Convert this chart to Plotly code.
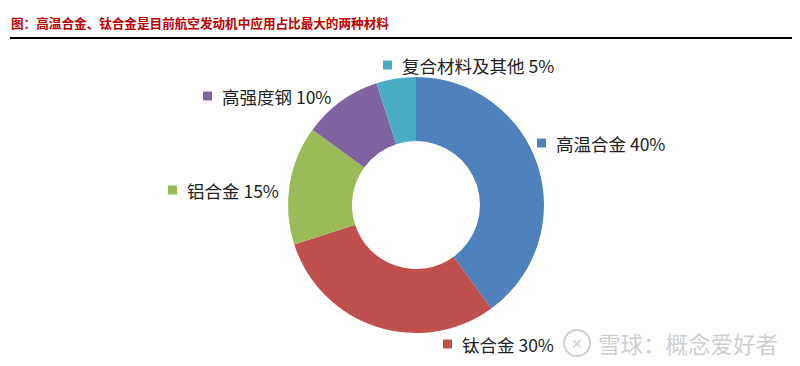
import plotly.graph_objects as go

W, H = 800, 366
OFF = 8  # page body margin offset

categories = ["高温合金", "钛合金", "铝合金", "高强度钢", "复合材料及其他"]
values = [40, 30, 15, 10, 5]
colors = ["#4F81BD", "#C0504D", "#9BBB59", "#8064A2", "#4BACC6"]
title_text = "图：高温合金、钛合金是目前航空发动机中应用占比最大的两种材料"
watermark_text = "雪球：概念爱好者"

# label anchor positions in screenshot pixels (square left x, center y)
label_pos = [(537, 143), (443, 344), (168, 190), (203, 96), (383, 65)]

def px(x):
    return (x - OFF) / W

def py(y):
    return 1 - (y - OFF) / H

cx, cy, r = 416, 205, 128

fig = go.Figure()
fig.add_trace(go.Pie(
    labels=categories,
    values=values,
    marker=dict(colors=colors, line=dict(width=0)),
    hole=0.5,
    sort=False,
    direction="clockwise",
    rotation=0,
    textinfo="none",
    hoverinfo="label+percent",
    showlegend=False,
    domain=dict(x=[px(cx - r), px(cx + r)], y=[py(cy + r), py(cy - r)]),
))

font_cjk = "Noto Sans CJK SC, Noto Sans, sans-serif"
shapes = []
annotations = []
sq = 9
for cat, val, col, (lx, ly) in zip(categories, values, colors, label_pos):
    shapes.append(dict(type="rect", xref="paper", yref="paper",
                       x0=px(lx), x1=px(lx + sq), y0=py(ly + sq / 2), y1=py(ly - sq / 2),
                       fillcolor=col, line=dict(width=0)))
    annotations.append(dict(text=f"{cat} {val}%", xref="paper", yref="paper",
                            x=px(lx + sq + 8), y=py(ly), xanchor="left", yanchor="middle",
                            showarrow=False, font=dict(family=font_cjk, size=17.5, color="#222222")))

# title
annotations.append(dict(text=f"<b>{title_text}</b>", xref="paper", yref="paper",
                        x=px(9), y=py(22), xanchor="left", yanchor="middle", showarrow=False,
                        font=dict(family=font_cjk, size=12.6, color="#C00000")))
shapes.append(dict(type="line", xref="paper", yref="paper", x0=px(10), x1=1.0,
                   y0=py(38), y1=py(38), line=dict(color="#000000", width=2)))

# watermark
shapes.append(dict(type="circle", xref="paper", yref="paper",
                   x0=px(564), x1=px(590), y0=py(356), y1=py(330),
                   line=dict(color="#D0D0D0", width=2)))
annotations.append(dict(text="✕", xref="paper", yref="paper", x=px(577), y=py(343),
                        xanchor="center", yanchor="middle", showarrow=False,
                        font=dict(family=font_cjk, size=14, color="#D0D0D0")))
annotations.append(dict(text=watermark_text, xref="paper", yref="paper",
                        x=px(596), y=py(343), xanchor="left", yanchor="middle", showarrow=False,
                        font=dict(family=font_cjk, size=22.5, color="#CFCFCF")))

fig.update_layout(
    width=W, height=H,
    margin=dict(l=0, r=0, t=0, b=0),
    paper_bgcolor="white", plot_bgcolor="white",
    shapes=shapes, annotations=annotations,
)

fig.write_html("out.html")
